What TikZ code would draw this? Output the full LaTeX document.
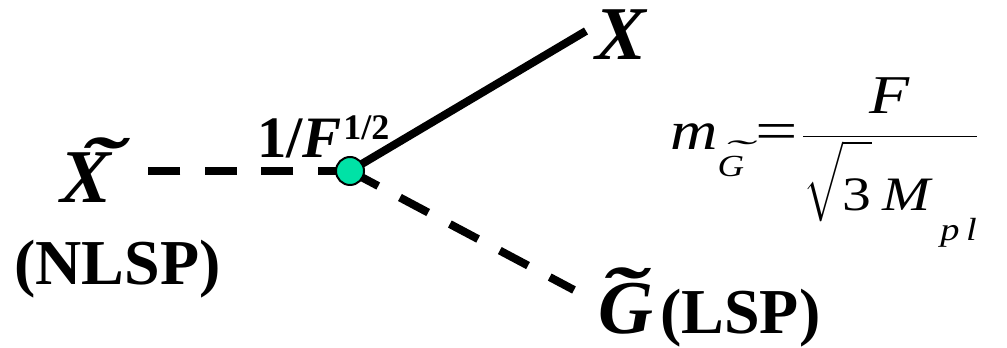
\documentclass[tikz,border=0pt]{standalone}
\usepackage{fix-cm}
\usepackage{amsmath}
\usepackage{graphicx}
\usepackage{fontspec}
\setmainfont{Liberation Serif}
\usepackage{tikz}
\usetikzlibrary{positioning}

\definecolor{mint}{RGB}{0,226,166}
\newcommand{\tildeon}[4]{\makebox[0pt][l]{\hspace*{#2}\raisebox{#3}{\scalebox{#4}[1]{\char"02DC}}}#1}

\begin{document}
\begin{tikzpicture}[
                x=0.75pt, y=-0.75pt,
                lbl/.style={inner sep=0pt, anchor=base west},
                big/.style={lbl, font=\fontsize{57}{57}\selectfont\bfseries\itshape},
                tag/.style={lbl, font=\fontsize{48}{48}\selectfont\bfseries},
                solidline/.style={line width=6pt},
                dashline/.style={line width=6pt, dash pattern=on 24pt off 18.4pt},
                vertex/.style={circle, draw, line width=1.5pt, fill=mint, minimum size=21pt, inner sep=0pt}
            ]
            \useasboundingbox (0,0) rectangle (1007,348);

            \coordinate (vtx) at (350,171);
            \node (xtilde) [big] at (60,203) {\tildeon{X}{14pt}{10pt}{1.7}};
            \node (nlsp) [tag] at (14,285) {(NLSP)};
            \node (coupling) [lbl, font=\fontsize{44}{44}\selectfont\bfseries] at (257,158) {1/\textit{F}\hspace{1pt}\raisebox{13.5pt}{\fontsize{27}{27}\selectfont 1/2}};
            \node (xout) [big] at (595,60) {X};
            \node (gtilde) [big] at (598,334) {\tildeon{G}{1pt}{11pt}{1.7}};
            \node (lsp) [tag, right=5pt of gtilde.base east, anchor=base west] {(LSP)};
            \node (mass) [lbl, font=\fontsize{41}{41}\selectfont] at (670,150) {\scalebox{1.2}[1]{\itshape m\raisebox{-20pt}{\fontsize{23}{23}\selectfont\tildeon{G}{3pt}{11pt}{2.4}}\upshape\hspace{7pt}\scalebox{1.15}[1]{=}\hspace{2pt}$\dfrac{\mbox{\itshape F}}{\mbox{\fontsize{23}{23}\selectfont$\sqrt{\rule[-1pt]{0pt}{43pt}\mbox{\fontsize{36}{36}\selectfont 3}}$}\mbox{\fontsize{36}{36}\selectfont\hspace{7pt}\itshape M}\hspace{6pt}\raisebox{-22pt}{\fontsize{24}{24}\selectfont\itshape p\,l}}$}};

            \coordinate (xend) at (586,31);
            \coordinate (gend) at (574,290);
            \coordinate (xtend) at (148,171);

            \draw [dashline] (vtx) -- (xtend);
            \draw [solidline] (vtx) -- (xend);
            \draw [dashline] (vtx) -- (gend);
            \node (vtxdot) [vertex] at (vtx) {};
\end{tikzpicture}
\end{document}
